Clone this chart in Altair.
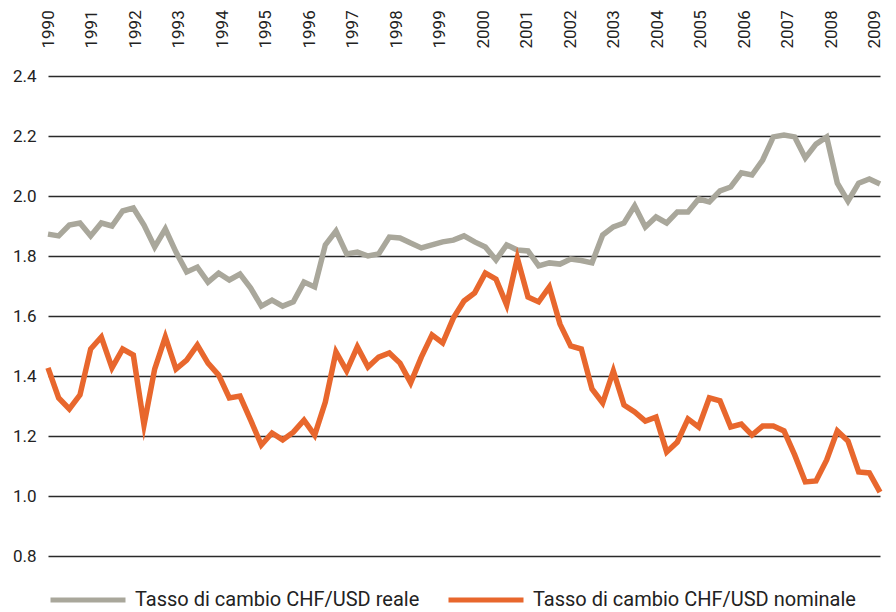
import altair as alt
import pandas as pd

# Tick labels
years = list(range(1990, 2010))
y_ticks = [0.8, 1.0, 1.2, 1.4, 1.6, 1.8, 2.0, 2.2, 2.4]

# Series names and colours
series_names = ["Tasso di cambio CHF/USD reale", "Tasso di cambio CHF/USD nominale"]
series_colors = ["#a9a79b", "#e8672d"]

# Quarterly values
reale = [
    1.873, 1.867, 1.903, 1.910, 1.867, 1.910, 1.900, 1.950, 1.960, 1.903,
    1.830, 1.890, 1.813, 1.747, 1.763, 1.713, 1.743, 1.720, 1.740, 1.693,
    1.633, 1.653, 1.633, 1.647, 1.713, 1.697, 1.837, 1.883, 1.807, 1.813,
    1.800, 1.807, 1.863, 1.860, 1.843, 1.827, 1.837, 1.847, 1.853, 1.867,
    1.847, 1.830, 1.787, 1.837, 1.820, 1.817, 1.767, 1.777, 1.773, 1.790,
    1.785, 1.777, 1.870, 1.897, 1.910, 1.967, 1.897, 1.930, 1.910, 1.947,
    1.947, 1.990, 1.980, 2.017, 2.030, 2.077, 2.070, 2.120, 2.197, 2.203,
    2.197, 2.127, 2.173, 2.197, 2.043, 1.983, 2.043, 2.057, 2.040,
]
nominale = [
    1.427, 1.327, 1.290, 1.337, 1.490, 1.530, 1.427, 1.490, 1.470, 1.237,
    1.423, 1.530, 1.423, 1.453, 1.503, 1.443, 1.403, 1.327, 1.333, 1.253,
    1.170, 1.210, 1.187, 1.213, 1.253, 1.203, 1.313, 1.480, 1.417, 1.497,
    1.430, 1.463, 1.477, 1.443, 1.377, 1.463, 1.537, 1.510, 1.593, 1.650,
    1.677, 1.743, 1.723, 1.637, 1.793, 1.663, 1.647, 1.697, 1.573, 1.500,
    1.490, 1.357, 1.310, 1.417, 1.303, 1.280, 1.250, 1.263, 1.147, 1.180,
    1.257, 1.230, 1.327, 1.317, 1.230, 1.240, 1.203, 1.233, 1.233, 1.217,
    1.137, 1.047, 1.050, 1.120, 1.217, 1.183, 1.080, 1.077, 1.013,
]

n = len(reale)
df = pd.DataFrame({
    "q": list(range(n)) * 2,
    "valore": reale + nominale,
    "serie": [series_names[0]] * n + [series_names[1]] * n,
})

FONT = "Roboto"
TXT = "#222222"

x_enc = alt.X("q:Q", scale=alt.Scale(domain=[0, n - 1], nice=False, zero=False), axis=None)
y_enc = alt.Y(
    "valore:Q",
    scale=alt.Scale(domain=[0.8, 2.4], nice=False, zero=False),
    axis=alt.Axis(
        values=y_ticks, format=".1f", title=None, grid=True, domain=False, ticks=False,
        labelFontSize=17, labelFont=FONT, labelColor=TXT, labelPadding=12,
        gridColor="#2a2a2a", gridWidth=1.4,
    ),
)
color_enc = alt.Color(
    "serie:N",
    scale=alt.Scale(domain=series_names, range=series_colors),
    legend=alt.Legend(
        orient="none", legendX=0, legendY=484, direction="horizontal", title=None,
        symbolType="stroke", symbolStrokeWidth=5, symbolSize=5625,
        labelFontSize=20, labelFont=FONT, labelColor=TXT, labelOffset=7,
        columnPadding=18, labelLimit=400, padding=0,
    ),
)

def series_layer(name):
    return alt.Chart(df).transform_filter(alt.datum.serie == name).mark_line(
        strokeWidth=5.5, strokeJoin="miter", strokeMiterLimit=6
    ).encode(x=x_enc, y=y_enc, color=color_enc)

year_df = pd.DataFrame({"anno": years})
year_axis = alt.Chart(year_df).mark_rule(opacity=0).encode(
    x=alt.X(
        "anno:Q",
        scale=alt.Scale(domain=[1990, 2009.115], nice=False, zero=False),
        axis=alt.Axis(
            orient="top", values=years, format="d", labelAngle=270, labelAlign="left",
            labelBaseline="middle", labelPadding=28, domain=False, ticks=False, grid=False,
            title=None, labelFontSize=17, labelFont=FONT, labelColor=TXT,
            labelFlush=False, labelOverlap=False,
        ),
    )
)

chart = alt.layer(
    year_axis, series_layer(series_names[0]), series_layer(series_names[1])
).resolve_scale(x="independent").properties(
    width=832, height=480,
    autosize=alt.AutoSizeParams(type="none"),
    padding={"left": 40, "top": 68, "right": 8, "bottom": 56},
).configure_view(stroke=None)

chart.save("out.html", embed_options={"renderer": "svg", "actions": False})
